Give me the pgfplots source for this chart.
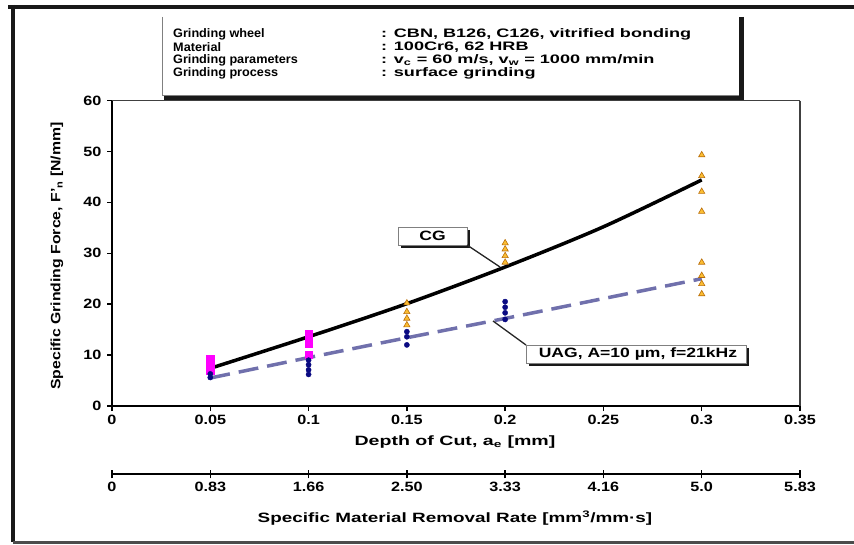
\documentclass[border=0pt]{standalone}
\usepackage{graphicx}
\usepackage{pgfplots}
\pgfplotsset{compat=1.18}
\usepackage{fontspec}
\setmainfont{Liberation Sans}
\definecolor{uagcol}{RGB}{112,112,172}
\definecolor{orfill}{RGB}{252,190,50}
\definecolor{ordraw}{RGB}{185,110,10}
\definecolor{navy}{RGB}{10,10,130}
\definecolor{mag}{RGB}{255,0,255}
\newcommand{\tf}{\bfseries\fontsize{13.5}{15}\selectfont}
\newcommand{\bxf}{\bfseries\fontsize{12.3}{13}\selectfont}
\newcommand{\sx}[2]{\scalebox{#1}[1]{#2}}
\begin{document}
\begin{tikzpicture}[x=1pt,y=1pt]
\path[use as bounding box] (0pt,0pt) rectangle (854pt,544pt);
% outer frame
\draw[line width=4pt,black!90] (8,537)--(854,537);
\draw[line width=4pt,black!90] (13,539)--(13,2);
\draw[line width=3pt,black!70] (13,2)--(854,2);
% info box
\draw[line width=1pt,gray] (162,527)--(162,449);
\draw[line width=5pt,black!90] (164,446.5)--(744,446.5);
\draw[line width=5pt,black!90] (741.5,527)--(741.5,444);
\draw[line width=0.6pt,gray] (162,449)--(739,449);
\node[anchor=west,font=\bxf,inner sep=0] at (173,510) {\sx{1.03}{Grinding wheel}};
\node[anchor=west,font=\bxf,inner sep=0] at (173,497) {\sx{1.03}{Material}};
\node[anchor=west,font=\bxf,inner sep=0] at (173,484) {\sx{1.03}{Grinding parameters}};
\node[anchor=west,font=\bxf,inner sep=0] at (173,471) {\sx{1.03}{Grinding process}};
\node[anchor=west,font=\bxf,inner sep=0] at (381,510) {\sx{1.47}{: CBN, B126, C126, vitrified bonding}};
\node[anchor=west,font=\bxf,inner sep=0] at (381,497) {\sx{1.47}{: 100Cr6, 62 HRB}};
\node[anchor=west,font=\bxf,inner sep=0] at (381,484) {\sx{1.47}{: v\textsubscript{c} = 60 m/s, v\textsubscript{w} = 1000 mm/min}};
\node[anchor=west,font=\bxf,inner sep=0] at (381,471) {\sx{1.47}{: surface grinding}};

\begin{axis}[
  at={(112pt,138pt)}, anchor=south west,
  scale only axis, width=688pt, height=305.5pt,
  xmin=0, xmax=0.35, ymin=0, ymax=60,
  axis x line*=bottom, axis y line*=left,
  axis line style={line width=2pt, black, -},
  xtick={0,0.05,0.1,0.15,0.2,0.25,0.3,0.35},
  xticklabels={\sx{1.2}{0},\sx{1.2}{0.05},\sx{1.2}{0.1},\sx{1.2}{0.15},\sx{1.2}{0.2},\sx{1.2}{0.25},\sx{1.2}{0.3},\sx{1.2}{0.35}},
  ytick={0,10,20,30,40,50,60},
  yticklabels={\sx{1.2}{0},\sx{1.2}{10},\sx{1.2}{20},\sx{1.2}{30},\sx{1.2}{40},\sx{1.2}{50},\sx{1.2}{60}},
  tick align=outside, major tick length=5pt,
  tick style={line width=1.5pt, black},
  ticklabel style={font=\tf},
  yticklabel style={xshift=-2pt},
  xticklabel style={yshift=-1pt},
  /pgf/number format/assume math mode=true,
  clip=false,
]
\draw[line width=1.2pt, black!75] (rel axis cs:0,1) -- (rel axis cs:1,1);
\draw[line width=2.5pt, black!75] (rel axis cs:1,1) -- (rel axis cs:1,0);
% magenta squares (CG)
\addplot[only marks, mark=square*, mark size=3.6pt, color=mag, mark options={draw=mag, fill=mag}]
  coordinates {(0.05,9.3)(0.05,8.5)(0.05,7.7)(0.05,6.9)(0.1,14.2)(0.1,13.2)(0.1,12.2)(0.1,10.0)};
% orange triangles (CG)
\addplot[only marks, mark=triangle*, mark size=3.6pt, mark options={fill=orfill, draw=ordraw, line width=0.6pt}]
  coordinates {(0.15,20.2)(0.15,18.5)(0.15,17.2)(0.15,15.9)
               (0.2,32.0)(0.2,30.8)(0.2,29.5)(0.2,28.2)
               (0.3,49.3)(0.3,45.2)(0.3,42.1)(0.3,38.2)
               (0.3,28.2)(0.3,25.6)(0.3,24.0)(0.3,22.0)};
% navy dots (UAG)
\addplot[only marks, mark=*, mark size=2.6pt, color=navy]
  coordinates {(0.05,6.3)(0.05,5.6)
               (0.1,9.0)(0.1,8.1)(0.1,7.1)(0.1,6.2)
               (0.15,14.6)(0.15,13.6)(0.15,12.0)
               (0.2,20.5)(0.2,19.4)(0.2,18.3)(0.2,17.0)};
% trend lines
\addplot[black, line width=3.5pt, smooth] coordinates
  {(0.05,7.4)(0.1,13.6)(0.15,20.1)(0.2,27.3)(0.25,35.2)(0.3,44.4)};
\addplot[uagcol, line width=3.5pt, dash pattern=on 20pt off 9pt, smooth] coordinates
  {(0.05,5.5)(0.1,9.5)(0.15,13.4)(0.2,17.2)(0.25,21.1)(0.3,25.0)};
\end{axis}

% secondary axis
\begin{axis}[
  at={(112pt,70pt)}, anchor=south west,
  scale only axis, width=688pt, height=1pt,
  xmin=0, xmax=0.35, ymin=0, ymax=1,
  axis x line*=bottom, hide y axis,
  axis line style={line width=1.5pt, black, -},
  xtick={0,0.05,0.1,0.15,0.2,0.25,0.3,0.35},
  xticklabels={\sx{1.2}{0},\sx{1.2}{0.83},\sx{1.2}{1.66},\sx{1.2}{2.50},\sx{1.2}{3.33},\sx{1.2}{4.16},\sx{1.2}{5.0},\sx{1.2}{5.83}},
  tick align=center, major tick length=9pt,
  tick style={line width=1.5pt, black},
  ticklabel style={font=\tf},
  /pgf/number format/assume math mode=true,
]
\addplot[draw=none] coordinates {(0,0)};
\end{axis}

% annotation boxes
\fill[black!90] (401,314) rectangle (470,296);
\filldraw[fill=white, draw=gray, line width=0.8pt] (398,317) rectangle (467,299);
\node[font=\tf] at (432.5,308) {\sx{1.3}{CG}};
\draw[line width=1.3pt, black!85] (467,299) -- (500,277);
\draw[line width=1.3pt, black!85] (526,199) -- (493,223);
\fill[black!90] (529,196) rectangle (749,178);
\filldraw[fill=white, draw=gray, line width=0.8pt] (526,199) rectangle (746,181);
\node[font=\tf] at (638,190) {\sx{1.3}{UAG, A=10 µm, f=21kHz}};

% axis titles
\node[font=\tf] at (455,102) {\sx{1.45}{Depth of Cut, a\textsubscript{e} [mm]}};
\node[font=\tf] at (455,26) {\sx{1.4}{Specific Material Removal Rate [mm\textsuperscript{3}/mm·s]}};
\node[font=\tf, rotate=90] at (57,288) {\sx{1.17}{Specific Grinding Force, F'\textsubscript{n} [N/mm]}};
\end{tikzpicture}
\end{document}
